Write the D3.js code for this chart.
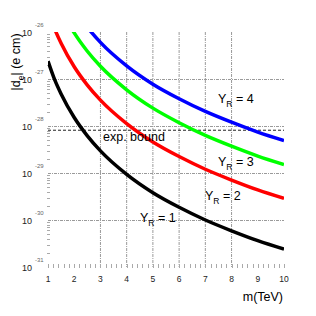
<!DOCTYPE html>
<html><head><meta charset="utf-8">
<script src="https://cdn.jsdelivr.net/npm/d3@7"></script>
<style>body{margin:0;background:#fff}svg{display:block}</style>
</head><body>
<script>
// masses (TeV)
const mass = [1, 1.25, 1.5, 2, 2.5, 3, 4, 5, 6, 7, 8, 9, 10];
// log10 |d_e|, per Y_R
const yr1 = [-26.62, -27.01, -27.32, -27.82, -28.21, -28.53, -29.03, -29.42, -29.73, -30.00, -30.23, -30.44, -30.62];
const yr2 = [-25.54, -25.93, -26.24, -26.74, -27.13, -27.45, -27.95, -28.34, -28.65, -28.92, -29.15, -29.36, -29.54];
const yr3 = [-24.82, -25.21, -25.52, -26.02, -26.41, -26.73, -27.23, -27.62, -27.93, -28.20, -28.43, -28.64, -28.82];
const yr4 = [-24.31, -24.70, -25.01, -25.51, -25.90, -26.22, -26.72, -27.11, -27.42, -27.69, -27.92, -28.13, -28.31];
const seriesNames = ["1", "2", "3", "4"];
const expBound = -28.09;
const xTicks = [1,2,3,4,5,6,7,8,9,10];
const yTickExp = [-26, -27, -28, -29, -30, -31];
const yTickLabels = ["-26", "-27", "-28", "-29", "-30", "-31"];
const xGrid = [3,4,5,6,7,8];
const yGridExp = [-27, -28, -29, -30];

const W = 316, H = 316;
const svg = d3.select("body").append("svg").attr("width", W).attr("height", H)
  .style("font-family", "'Liberation Sans', Arial, sans-serif");

const x = d3.scaleLinear().domain([1, 10]).range([48, 284]);
const y = d3.scaleLog().domain([1e-31, 1e-26]).range([267, 32]);
const pv = e => Math.pow(10, e);

svg.append("defs").append("clipPath").attr("id", "clip")
  .append("rect").attr("x", x(1)).attr("y", y(1e-26)).attr("width", x(10) - x(1)).attr("height", y(1e-31) - y(1e-26));

// grid
const grid = svg.append("g").attr("stroke", "#9a9a9a").attr("stroke-width", 1).attr("stroke-dasharray", "3,1,1,1");
grid.selectAll("line.v").data(xGrid).join("line")
  .attr("x1", d => x(d)).attr("x2", d => x(d)).attr("y1", y(1e-26)).attr("y2", y(1e-31));
grid.selectAll("line.h").data(yGridExp).join("line")
  .attr("x1", x(1)).attr("x2", x(10)).attr("y1", d => y(pv(d)) + 0.5).attr("y2", d => y(pv(d)) + 0.5);

// minor ticks left
const minorY = [];
for (let e = -31; e < -26; e++) for (let k = 2; k <= 9; k++) minorY.push(k * pv(e));
svg.append("g").attr("stroke", "#aaa").selectAll("line").data(minorY).join("line")
  .attr("x1", x(1) - 1).attr("x2", x(1) + 2).attr("y1", d => Math.round(y(d)) + 0.5).attr("y2", d => Math.round(y(d)) + 0.5);
// minor ticks bottom
const minorX = d3.range(1, 10.001, 0.2);
svg.append("g").attr("stroke", "#aaa").selectAll("line").data(minorX).join("line")
  .attr("x1", d => Math.round(x(d)) + 0.5).attr("x2", d => Math.round(x(d)) + 0.5)
  .attr("y1", y(1e-31) - 3).attr("y2", y(1e-31) + 1);

// exp bound
svg.append("line").attr("x1", x(1)).attr("x2", x(10))
  .attr("y1", y(pv(expBound))).attr("y2", y(pv(expBound)))
  .attr("stroke", "#222").attr("stroke-width", 1).attr("stroke-dasharray", "3,2");

// curves
const series = [yr1, yr2, yr3, yr4];
const colors = ["#000000", "#ff0000", "#00ff00", "#0000ff"];
const line = d3.line().x((d, i) => x(mass[i])).y(d => y(pv(d))).curve(d3.curveMonotoneX);
svg.append("g").attr("clip-path", "url(#clip)").selectAll("path").data(series).join("path")
  .attr("d", line).attr("fill", "none").attr("stroke", (d, i) => colors[i]).attr("stroke-width", 3.5);

// x tick labels
svg.append("g").selectAll("text").data(xTicks).join("text")
  .attr("x", d => x(d)).attr("y", 282).attr("text-anchor", "middle")
  .attr("font-size", 8.5).attr("fill", "#222").text(d => d);

// y tick labels
const yl = svg.append("g").selectAll("g").data(yTickExp).join("g");
yl.append("text").attr("x", 32).attr("y", d => y(pv(d)) + 3.5).attr("text-anchor", "end")
  .attr("font-size", 9).attr("fill", "#222").text("10");
yl.append("text").attr("x", 35).attr("y", (d) => y(pv(d)) - 5).attr("text-anchor", "start")
  .attr("font-size", 6).attr("fill", "#666").text((d, i) => yTickLabels[i]);

// series labels
const labelPos = [[140, 222], [205, 200], [218, 166], [218, 103]];
const lab = svg.append("g").selectAll("text").data(seriesNames).join("text")
  .attr("x", (d, i) => labelPos[i][0]).attr("y", (d, i) => labelPos[i][1])
  .attr("font-size", 12.5).attr("fill", "#000");
lab.append("tspan").text("Y");
lab.append("tspan").attr("font-size", 8.5).attr("dy", 4).text("R");
lab.append("tspan").attr("dy", -4).text(d => " = " + d);

// exp bound label
svg.append("text").attr("x", 103).attr("y", 141).attr("font-size", 12.5).text("exp. bound");

// axis titles
svg.append("text").attr("x", 283).attr("y", 301).attr("text-anchor", "end").attr("font-size", 12.5).text("m(TeV)");
const yt = svg.append("text").attr("transform", "translate(20,62) rotate(-90)").attr("text-anchor", "middle").attr("font-size", 12.5);
yt.append("tspan").text("|d");
yt.append("tspan").attr("font-size", 8.5).attr("dy", 4).text("e");
yt.append("tspan").attr("dy", -4).text("| (e cm)");
</script>
</body></html>
